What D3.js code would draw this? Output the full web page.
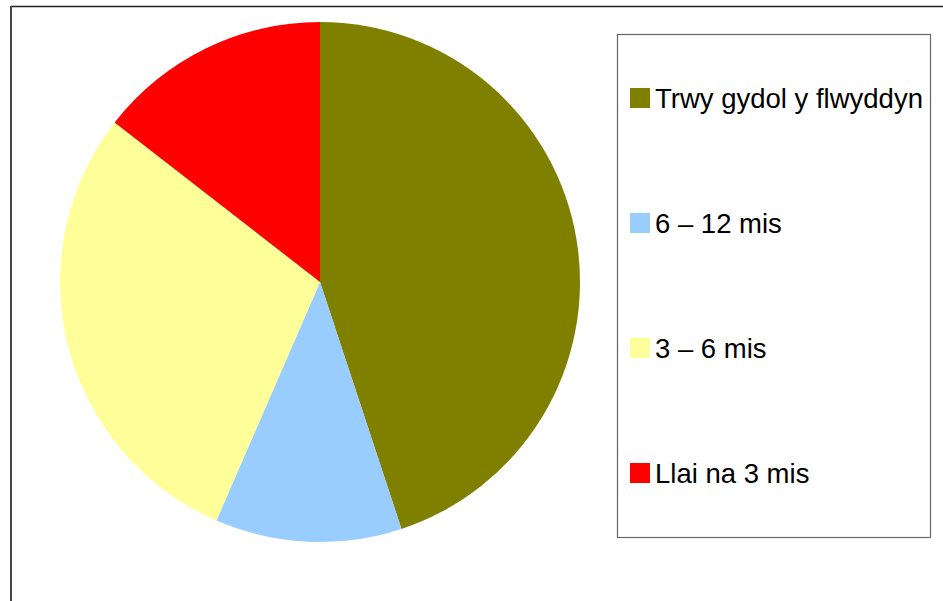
<!DOCTYPE html>
<html>
<head>
<meta charset="utf-8">
<script src="https://cdn.jsdelivr.net/npm/d3@7"></script>
<style>
  html, body { margin: 0; padding: 0; background: #fff; }
  svg { display: block; }
  text { font-family: "Liberation Sans", Arial, sans-serif; }
</style>
</head>
<body>
<div id="chart"></div>
<script>
// data
var categories = ['Trwy gydol y flwyddyn', '6 \u2013 12 mis', '3 \u2013 6 mis', 'Llai na 3 mis'];
var values = [31, 8, 20, 10];
var colours = ['#808000', '#99ccff', '#ffff99', '#ff0000'];

var width = 943, height = 601;
var svg = d3.select('#chart')
  .append('svg:svg')
  .attr('width', width)
  .attr('height', height);

// outer frame (runs off the right and bottom)
svg.append('line')
  .attr('x1', 11).attr('y1', 6.5).attr('x2', width).attr('y2', 6.5)
  .attr('stroke', '#222').attr('stroke-width', 1.5);
svg.append('line')
  .attr('x1', 11).attr('y1', 6).attr('x2', 11).attr('y2', height)
  .attr('stroke', '#444').attr('stroke-width', 2);

// pie
var cx = 320, cy = 282, r = 260;
var pie = d3.pie().sort(null).value(function(d){ return d; });
var arc = d3.arc().innerRadius(0).outerRadius(r);
var g = svg.append('g').attr('transform', 'translate(' + cx + ',' + cy + ')');
g.selectAll('path')
  .data(pie(values))
  .enter().append('path')
  .attr('d', arc)
  .attr('fill', function(d, i){ return colours[i]; });

// legend
var lx = 617, ly = 34, lw = 313, lh = 503;
svg.append('rect')
  .attr('x', lx + 0.5).attr('y', ly + 0.5)
  .attr('width', lw).attr('height', lh)
  .attr('fill', '#fff')
  .attr('stroke', '#666').attr('stroke-width', 1.2);

var rowY = d3.scalePoint().domain(categories).range([108, 483]);
var item = svg.selectAll('g.legend-item')
  .data(categories)
  .enter().append('g')
  .attr('class', 'legend-item')
  .attr('transform', function(d){ return 'translate(0,' + rowY(d) + ')'; });
item.append('rect')
  .attr('x', 630).attr('y', -20)
  .attr('width', 20).attr('height', 20)
  .attr('fill', function(d, i){ return colours[i]; });
item.append('text')
  .attr('x', 655).attr('y', 0)
  .attr('font-size', '27.5px')
  .attr('fill', '#000')
  .text(function(d){ return d; });
</script>
</body>
</html>
